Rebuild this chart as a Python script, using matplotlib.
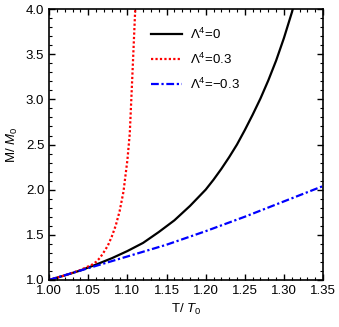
import numpy as np
import matplotlib
matplotlib.use("Agg")
import matplotlib.pyplot as plt
from matplotlib.ticker import MultipleLocator

plt.rcParams['font.family'] = ['Liberation Sans', 'DejaVu Sans']
plt.rcParams['mathtext.fontset'] = 'custom'
plt.rcParams['mathtext.rm'] = 'Liberation Sans'
plt.rcParams['mathtext.it'] = 'Liberation Sans:italic'

t_zero = [1.00, 1.02, 1.04, 1.06, 1.08, 1.10, 1.12, 1.14, 1.16, 1.18, 1.20,
          1.21, 1.22, 1.23, 1.24, 1.25, 1.26, 1.27, 1.28, 1.29, 1.30, 1.31, 1.315]
m_zero = [1.00, 1.05, 1.105, 1.17, 1.24, 1.32, 1.41, 1.53, 1.66, 1.82, 2.00,
          2.11, 2.23, 2.36, 2.50, 2.66, 2.83, 3.01, 3.21, 3.43, 3.68, 3.96, 4.12]

t_pos = [1.00, 1.01, 1.02, 1.03, 1.04, 1.05, 1.055, 1.06, 1.065, 1.07, 1.075,
         1.08, 1.085, 1.09, 1.095, 1.10, 1.103, 1.106, 1.108, 1.110, 1.111]
m_pos = [1.00, 1.025, 1.05, 1.08, 1.11, 1.15, 1.17, 1.20, 1.245, 1.31, 1.38,
         1.48, 1.60, 1.76, 1.98, 2.33, 2.62, 3.20, 3.60, 4.00, 4.20]

t_neg = [1.00, 1.05, 1.10, 1.15, 1.20, 1.25, 1.30, 1.35]
m_neg = [1.00, 1.13, 1.26, 1.39, 1.54, 1.70, 1.87, 2.04]

fig = plt.figure(figsize=(3.39, 3.27), dpi=100)
ax = fig.add_axes([0.145, 0.144, 0.808, 0.828])

ax.plot(t_zero, m_zero, color='black', lw=1.6, label=r'$\Lambda^4$=0')
ax.plot(t_pos, m_pos, color='red', lw=1.6, ls=(0, (1, 1)), label=r'$\Lambda^4$=0.3')
ax.plot(t_neg, m_neg, color='blue', lw=1.6, ls=(0, (3.5, 1.2, 1, 1.2)),
        label=r'$\Lambda^4$=$-$0.3')

ax.set_xlim(1.0, 1.35)
ax.set_ylim(1.0, 4.0)
ax.xaxis.set_major_locator(MultipleLocator(0.05))
ax.xaxis.set_minor_locator(MultipleLocator(0.01))
ax.yaxis.set_major_locator(MultipleLocator(0.5))
ax.yaxis.set_minor_locator(MultipleLocator(0.1))
ax.tick_params(which='both', direction='in', top=True, right=True, labelsize=9.5)
ax.tick_params(which='major', length=4, width=1)
ax.tick_params(which='minor', length=2, width=0.8)
for s in ax.spines.values():
    s.set_linewidth(1.2)

ax.set_xlabel(r'T/ $T_0$', fontsize=9.5, labelpad=4)
ax.set_ylabel(r'M/ $M_0$', fontsize=9.5, labelpad=4)

ax.legend(loc='upper left', bbox_to_anchor=(0.33, 0.98), frameon=False,
          fontsize=9.5, handlelength=2.3, labelspacing=0.75, handletextpad=0.6)

fig.savefig('out.png', dpi=100)
